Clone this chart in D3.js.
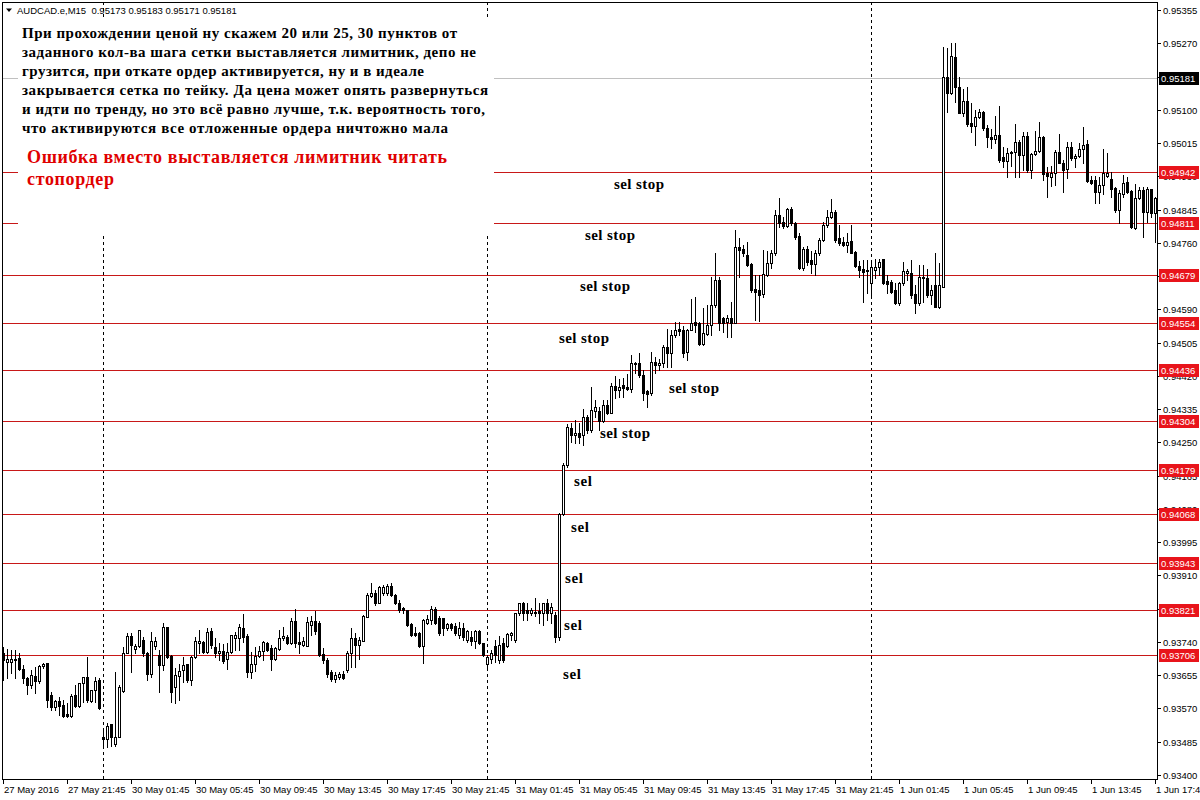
<!DOCTYPE html>
<html lang="ru">
<head>
<meta charset="utf-8">
<title>AUDCAD.e,M15</title>
<script src="https://cdn.jsdelivr.net/npm/d3@7/dist/d3.min.js"></script>
<style>
  body { margin: 0; background: #fff; }
  svg text { font-family: "Liberation Sans", Arial, sans-serif; }
  .note { font-family: "Liberation Serif", "Times New Roman", serif; font-weight: bold; }
</style>
</head>
<body>
<div id="chart"></div>
<script>
// M15 bars, prices in points above 0.93000 (1 point = 0.00001)
var priceBase = 0.93;
var opens = [
  712,689,689,697,699,671,648,630,653,640, 678,686,604,574,589,579,556,551,604,576,
  635,650,589,617,643,497,492,530,479,497, 615,712,755,722,730,745,712,658,730,707,
  681,778,704,625,653,668,684,643,701,738, 740,715,768,727,712,717,697,714,750,750,
  776,755,663,684,704,717,738,725,697,722, 750,753,738,794,740,732,730,783,794,789,
  709,694,663,645,650,658,668,712,750,732, 743,804,857,865,840,865,865,883,860,840,
  827,822,786,763,763,730,789,796,824,801, 801,776,786,781,758,776,745,753,743,768,
  738,684,697,730,694,738,730,758,745,814, 840,822,814,817,819,814,840,814,809,752,
  1068,1192,1287,1269,1274,1269,1315,1282,1330,1330, 1305,1346,1325,1394,1384,1397,1391,1386,1450,1453,
  1422,1381,1376,1456,1448,1453,1494,1479,1524,1540, 1537,1481,1537,1558,1555,1502,1527,1550,1601,1665,
  1568,1558,1568,1556,1749,1744,1729,1706,1642,1639, 1629,1678,1708,1734,1831,1813,1803,1847,1811,1778,
  1696,1744,1716,1706,1734,1767,1806,1826,1839,1772, 1762,1754,1765,1737,1701,1693,1688,1657,1690,1698,
  1719,1662,1660,1639,1606,1657,1683,1683,1629,1606, 1673,1670,1627,1652,1596,1647,2184,2143,2235,2158,
  2092,2122,2066,2059,2082,2094,2053,2031,2025,2036, 1979,1969,1989,1992,2018,1985,2033,1946,1987,1995,
  2031,1939,1928,1939,1992,1964,1949,2005,1977,1982, 2000,2013,1921,1921,1890,1908,1931,1923,1900,1844,
  1885,1915,1892,1798,1875,1895,1839,1897,1836
];
var highs = [
  727,722,720,720,712,681,650,668,676,681, 686,686,612,592,599,592,584,607,630,635,
  650,701,617,650,648,520,533,530,663,630, 727,763,763,735,771,753,714,766,753,720,
  789,778,707,674,684,701,684,704,753,771, 743,776,776,750,738,735,738,758,766,786,
  812,760,714,727,730,743,740,732,727,771, 778,758,801,824,766,753,804,806,819,794,
  725,699,668,663,663,666,717,776,763,753, 809,865,890,873,883,885,888,890,862,847,
  829,822,789,778,766,799,809,832,829,806, 801,789,789,789,791,789,771,768,771,771,
  738,707,720,745,755,750,763,766,814,840, 842,840,827,852,840,840,850,840,817,1070,
  1197,1297,1300,1307,1300,1335,1320,1391,1358,1340, 1358,1358,1402,1420,1412,1415,1425,1473,1456,1479,
  1435,1384,1481,1468,1463,1499,1540,1537,1558,1558, 1547,1540,1616,1622,1558,1593,1601,1673,1734,1673,
  1571,1576,1609,1793,1772,1754,1762,1708,1678,1678, 1742,1739,1742,1844,1875,1826,1849,1852,1813,1785,
  1749,1752,1739,1742,1772,1813,1844,1872,1844,1806, 1775,1785,1806,1739,1713,1716,1716,1711,1719,1719,
  1719,1678,1665,1657,1660,1711,1693,1716,1652,1703, 1703,1693,1652,1734,1708,2260,2258,2271,2271,2184,
  2153,2158,2117,2099,2102,2097,2061,2051,2084,2110, 2005,2002,1995,2064,2023,2043,2043,1990,2046,2069,
  2033,1954,1956,1997,2038,1972,2018,2018,1987,2015, 2056,2023,1931,1931,1928,2000,1990,1941,1903,1895,
  1933,1928,1895,1911,1903,1903,1903,1897,1877
];
var lows = [
  643,648,661,648,668,635,607,622,610,635, 673,574,566,566,553,548,548,548,574,574,
  587,587,587,587,569,470,472,474,474,497, 612,712,663,712,727,704,643,650,722,612,
  668,699,587,584,592,638,638,630,699,712, 712,712,725,701,694,686,671,712,720,720,
  740,650,648,666,701,694,717,668,694,720, 745,735,735,727,712,730,730,758,760,704,
  686,650,640,638,645,645,663,676,676,697, 743,804,855,834,840,860,860,857,837,817,
  814,781,755,755,727,686,786,786,786,758, 758,771,771,758,750,745,740,732,725,735,
  704,668,686,689,686,689,727,745,740,809, 796,796,809,806,789,783,796,789,740,745,
  1064,1187,1251,1248,1248,1243,1274,1277,1315,1282, 1302,1323,1325,1363,1366,1366,1384,1379,1427,1417,
  1358,1340,1371,1427,1435,1443,1443,1443,1519,1524, 1468,1461,1537,1532,1499,1499,1524,1524,1596,1537,
  1532,1519,1519,1556,1673,1726,1701,1634,1563,1560, 1622,1675,1696,1729,1801,1798,1801,1806,1770,1693,
  1690,1703,1683,1678,1729,1764,1801,1824,1762,1754, 1752,1737,1734,1698,1673,1609,1632,1619,1670,1678,
  1655,1632,1632,1604,1601,1652,1665,1619,1581,1601, 1609,1622,1604,1596,1593,1647,2094,2140,2120,2092,
  2084,2059,2043,2010,2079,2048,2005,2002,2015,1967, 1954,1928,1956,1928,1928,1946,1941,1926,1985,1992,
  1921,1877,1905,1908,1964,1890,1926,1972,1954,1979, 1964,1915,1910,1862,1862,1885,1928,1877,1839,1811,
  1877,1887,1798,1795,1872,1775,1813,1826,1762
];
var closes = [
  694,697,697,694,671,648,630,656,640,678, 683,592,574,589,576,551,551,602,576,635,
  650,592,617,640,571,492,525,497,497,625, 712,755,732,730,771,712,658,743,743,681,
  778,702,612,656,666,681,643,701,743,743, 715,766,732,712,717,692,714,758,758,778,
  753,663,684,704,717,740,720,697,725,750, 755,738,794,738,735,743,791,794,768,707,
  694,658,645,656,658,648,712,750,732,745, 806,860,865,840,880,880,883,860,840,822,
  822,783,758,758,730,796,799,824,789,763, 776,786,776,763,776,753,768,743,768,738,
  707,701,712,707,732,694,760,763,814,840, 814,814,822,814,814,840,814,829,752,1068,
  1192,1289,1269,1274,1264,1315,1282,1333,1340,1305, 1346,1325,1394,1384,1391,1389,1386,1453,1453,1422,
  1376,1374,1456,1448,1453,1494,1479,1524,1537,1535, 1479,1537,1555,1550,1502,1530,1550,1601,1665,1556,
  1556,1568,1556,1749,1742,1734,1703,1639,1634,1627, 1680,1708,1734,1831,1811,1803,1847,1811,1775,1696,
  1744,1711,1706,1734,1767,1806,1826,1839,1767,1760, 1754,1762,1734,1701,1690,1685,1690,1698,1698,1711,
  1657,1655,1634,1606,1657,1688,1688,1627,1606,1673, 1670,1627,1639,1596,1652,2184,2143,2237,2158,2092,
  2122,2064,2059,2082,2094,2053,2031,2025,2036,1972, 1969,1989,1992,2018,1985,2033,1946,1987,1995,2031,
  1936,1931,1939,1992,1964,1946,2005,1977,1982,2000, 2010,1918,1913,1890,1908,1939,1939,1898,1844,1887,
  1913,1890,1800,1875,1895,1839,1897,1836,1875
];

var symbolName = "AUDCAD.e,M15";
var headerQuote = [0.95173, 0.95183, 0.95171, 0.95181];
var bidPrice = 0.95181;
var gridLevels = [0.94942, 0.94811, 0.94679, 0.94554, 0.94436, 0.94304,
                  0.94179, 0.94068, 0.93943, 0.93821, 0.93706];
var priceTicks = [0.95355, 0.95270, 0.95185, 0.95100, 0.95015, 0.94930, 0.94845, 0.94760,
                  0.94675, 0.94590, 0.94505, 0.94420, 0.94335, 0.94250, 0.94165, 0.94080,
                  0.93995, 0.93910, 0.93825, 0.93740, 0.93655, 0.93570, 0.93485, 0.93400];
var timeTickBars = [0, 16, 32, 48, 64, 80, 96, 112, 128, 144, 160, 176, 192, 208, 224, 240, 256, 272, 288];
var timeTickLabels = ["27 May 2016", "27 May 21:45", "30 May 01:45", "30 May 05:45", "30 May 09:45",
  "30 May 13:45", "30 May 17:45", "30 May 21:45", "31 May 01:45", "31 May 05:45", "31 May 09:45",
  "31 May 13:45", "31 May 17:45", "31 May 21:45", "1 Jun 01:45", "1 Jun 05:45", "1 Jun 09:45",
  "1 Jun 13:45", "1 Jun 17:45"];
var separatorBars = [25, 121, 217];

var noteLines = [
  "При прохождении ценой ну скажем 20 или 25, 30 пунктов от",
  "заданного кол-ва шага сетки выставляется лимитник, депо не",
  "грузится, при откате ордер активируется, ну и в идеале",
  "закрывается сетка по тейку. Да цена может опять развернуться",
  "и идти по тренду, но это всё равно лучше, т.к. вероятность того,",
  "что активируются все отложенные ордера ничтожно мала"
];
var errorLines = ["Ошибка вместо выставляется лимитник читать", "стопордер"];

var orderLabels = ["sel stop", "sel stop", "sel stop", "sel stop", "sel stop", "sel stop",
                   "sel", "sel", "sel", "sel", "sel"];
var orderBars   = [152.75, 145.5, 144.25, 139, 166.5, 149.25, 142.75, 142, 140.5, 140.25, 140];
var orderPrices = [0.94910, 0.94780, 0.94650, 0.94517, 0.94389, 0.94274,
                   0.94151, 0.94034, 0.93904, 0.93783, 0.93658];

// ---------------------------------------------------------------
var W = 1200, H = 800;
var frame = {left: 2, top: 2, right: 1157, bottom: 779};

var svg = d3.select("#chart").append("svg")
  .attr("width", W).attr("height", H)
  .attr("shape-rendering", "crispEdges");

svg.append("rect").attr("width", W).attr("height", H).attr("fill", "#fff");

var x = d3.scaleLinear().domain([0, 288]).range([3, 1155]);
var y = d3.scaleLinear().domain([0.93400, 0.95355]).range([775, 10]);
var py = function(v) { return Math.round(y(v)); };

var bars = opens.map(function(o, i) {
  return {
    i: i,
    o: priceBase + o / 1e5,
    h: priceBase + highs[i] / 1e5,
    l: priceBase + lows[i] / 1e5,
    c: priceBase + closes[i] / 1e5
  };
});

// period separators
svg.append("g").selectAll("line").data(separatorBars).enter().append("line")
  .attr("x1", function(d) { return Math.round(x(d)) + 0.5; })
  .attr("x2", function(d) { return Math.round(x(d)) + 0.5; })
  .attr("y1", frame.top).attr("y2", frame.bottom)
  .attr("stroke", "#000").attr("stroke-dasharray", "3,3");

// bid line
svg.append("line")
  .attr("x1", frame.left).attr("x2", frame.right)
  .attr("y1", py(bidPrice) + 0.5).attr("y2", py(bidPrice) + 0.5)
  .attr("stroke", "#c0c0c0");

// horizontal level lines
svg.append("g").selectAll("line").data(gridLevels).enter().append("line")
  .attr("x1", frame.left).attr("x2", frame.right)
  .attr("y1", function(d) { return py(d) + 0.5; })
  .attr("y2", function(d) { return py(d) + 0.5; })
  .attr("stroke", "#c81818");

// candles
var candle = svg.append("g").selectAll("g").data(bars).enter().append("g");
candle.append("rect")
  .attr("x", function(d) { return Math.round(x(d.i)); })
  .attr("width", 1)
  .attr("y", function(d) { return py(d.h); })
  .attr("height", function(d) { return py(d.l) - py(d.h) + 1; })
  .attr("fill", "#000");
candle.append("rect")
  .attr("x", function(d) { return Math.round(x(d.i)) - 1; })
  .attr("width", 3)
  .attr("y", function(d) { return py(Math.max(d.o, d.c)); })
  .attr("height", function(d) { return Math.max(1, py(Math.min(d.o, d.c)) - py(Math.max(d.o, d.c)) + 1); })
  .attr("fill", "#000");
candle.filter(function(d) { return d.c > d.o && py(d.o) - py(d.c) > 1; })
  .append("rect")
  .attr("x", function(d) { return Math.round(x(d.i)); })
  .attr("width", 1)
  .attr("y", function(d) { return py(d.c) + 1; })
  .attr("height", function(d) { return py(d.o) - py(d.c) - 1; })
  .attr("fill", "#fff");

// text box
svg.append("rect").attr("x", 18).attr("y", 20).attr("width", 476).attr("height", 216).attr("fill", "#fff");

var noteWidths = [435, 454, 402, 466, 463, 426];
svg.append("g").selectAll("text").data(noteLines).enter().append("text")
  .attr("class", "note")
  .attr("x", 22)
  .attr("y", function(d, i) { return 38 + i * 19; })
  .attr("font-size", "15px")
  .attr("textLength", function(d, i) { return noteWidths[i]; })
  .attr("lengthAdjust", "spacing")
  .attr("fill", "#000")
  .text(function(d) { return d; });

var errWidths = [420, 87];
svg.append("g").selectAll("text").data(errorLines).enter().append("text")
  .attr("class", "note")
  .attr("x", 27)
  .attr("y", function(d, i) { return 163 + i * 22; })
  .attr("font-size", "18px")
  .attr("textLength", function(d, i) { return errWidths[i]; })
  .attr("lengthAdjust", "spacing")
  .attr("fill", "#e00000")
  .text(function(d) { return d; });

// order annotations
svg.append("g").selectAll("text").data(orderLabels).enter().append("text")
  .attr("class", "note")
  .attr("x", function(d, i) { return x(orderBars[i]); })
  .attr("y", function(d, i) { return y(orderPrices[i]) + 5; })
  .attr("font-size", "15px")
  .attr("textLength", function(d) { return d.length > 3 ? 50 : 18; })
  .attr("lengthAdjust", "spacing")
  .attr("fill", "#000")
  .text(function(d) { return d; });

// frame
svg.append("rect")
  .attr("x", frame.left + 0.5).attr("y", frame.top + 0.5)
  .attr("width", frame.right - frame.left).attr("height", frame.bottom - frame.top)
  .attr("fill", "none").attr("stroke", "#000");

// price axis
var pAxis = svg.append("g");
pAxis.selectAll("line").data(priceTicks).enter().append("line")
  .attr("x1", frame.right + 1).attr("x2", frame.right + 4)
  .attr("y1", function(d) { return py(d) + 0.5; })
  .attr("y2", function(d) { return py(d) + 0.5; })
  .attr("stroke", "#000");
pAxis.selectAll("text").data(priceTicks).enter().append("text")
  .attr("x", 1163)
  .attr("y", function(d) { return py(d) + 4; })
  .attr("font-size", "9.5px")
  .attr("fill", "#000")
  .text(function(d) { return d3.format(".5f")(d); });

// time axis
var tAxis = svg.append("g");
tAxis.selectAll("line").data(timeTickBars).enter().append("line")
  .attr("x1", function(d) { return Math.round(x(d)) + 0.5; })
  .attr("x2", function(d) { return Math.round(x(d)) + 0.5; })
  .attr("y1", frame.bottom + 1).attr("y2", frame.bottom + 5)
  .attr("stroke", "#000");
tAxis.selectAll("text").data(timeTickLabels).enter().append("text")
  .attr("x", function(d, i) { return Math.round(x(timeTickBars[i])) + 1; })
  .attr("y", 793)
  .attr("font-size", "9.5px")
  .attr("fill", "#000")
  .text(function(d) { return d; });

// price tags
var tags = svg.append("g").selectAll("g").data(gridLevels).enter().append("g");
tags.append("rect")
  .attr("x", 1159).attr("width", 40)
  .attr("y", function(d) { return py(d) - 6; }).attr("height", 13)
  .attr("fill", "#e8141b");
tags.append("text")
  .attr("x", 1161).attr("y", function(d) { return py(d) + 4; })
  .attr("font-size", "9.5px").attr("fill", "#fff")
  .text(function(d) { return d3.format(".5f")(d); });

var bidTag = svg.append("g");
bidTag.append("rect").attr("x", 1159).attr("width", 40)
  .attr("y", py(bidPrice) - 6).attr("height", 13).attr("fill", "#000");
bidTag.append("text").attr("x", 1161).attr("y", py(bidPrice) + 4)
  .attr("font-size", "9.5px").attr("fill", "#fff")
  .text(d3.format(".5f")(bidPrice));

// header
svg.append("path").attr("d", "M6,8.5L12,8.5L9,12Z").attr("fill", "#000").attr("shape-rendering", "auto");
svg.append("text")
  .attr("x", 17).attr("y", 14)
  .attr("font-size", "9.5px")
  .attr("fill", "#000")
  .style("white-space", "pre")
  .text(symbolName + "  " + headerQuote.map(d3.format(".5f")).join(" "));
</script>
</body>
</html>
